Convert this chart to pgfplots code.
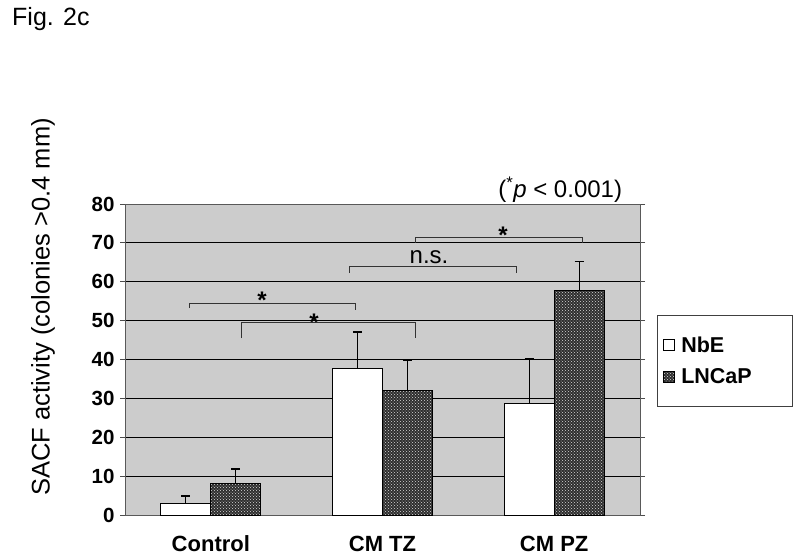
\documentclass[border=0pt]{standalone}
\usepackage{pgfplots}
\pgfplotsset{compat=1.18}
\usepackage{pgfplotstable}
\usepackage{fontspec}
\setmainfont{Liberation Sans}
\usetikzlibrary{patterns}

\pgfplotstableread{
x nbe nbeerr lncap lncaperr
0 3.0 1.9 8.2 3.6
1 37.7 9.4 32.0 7.9
2 28.8 11.5 57.7 7.5
}\sacf

\begin{document}
\begin{tikzpicture}
\path[use as bounding box] (0,0) rectangle (800pt,558pt);
\node[anchor=base west, font=\fontsize{25}{30}\selectfont, inner sep=0pt] at (12pt,532pt) {Fig. 2c};
\begin{axis}[
  at={(125pt,43pt)}, anchor=south west,
  scale only axis, width=515pt, height=311pt,
  ybar=0pt, bar width=50pt,
  xmin=-0.5, xmax=2.5, ymin=0, ymax=80,
  xtick={0,1,2}, xticklabels={Control,CM TZ,CM PZ},
  x tick style={draw=none},
  extra x ticks={0.5,1.5,2.5}, extra x tick labels={},
  extra x tick style={grid=none, tick style={draw=black!70, line width=1pt}, major tick length=5pt, tick align=outside},
  ytick={0,10,...,80},
  tick align=outside, major tick length=5pt,
  y tick style={black!70, line width=1pt},
  ymajorgrids, grid style={black, line width=0.9pt},
  axis background/.style={fill=gray!40},
  axis line style={black!65, line width=1pt},
  /pgf/number format/assume math mode=true,
  yticklabel style={font=\bfseries\fontsize{20.5}{24}\selectfont, xshift=-2pt},
  xticklabel style={font=\bfseries\fontsize{22}{26}\selectfont, text height=16pt, text depth=0pt, yshift=-12pt},
  ylabel={SACF activity (colonies >0.4 mm)},
  ylabel style={font=\fontsize{25.5}{30}\selectfont, at={(axis description cs:-0.159,0.669)}, anchor=center, rotate=0},
  legend image code/.code={\draw[#1, line width=0.8pt] (0pt,-5.5pt) rectangle (11pt,5.5pt);},
  legend style={at={(1.033,0.643)}, anchor=north west, draw=black!75, line width=1pt,
    font=\bfseries\fontsize{21.5}{25}\selectfont, inner xsep=5pt, inner ysep=19pt, row sep=11pt,
    cells={anchor=west},
    /tikz/every odd column/.append style={column sep=5pt}},
  error bars/error bar style={black, line width=1pt},
  error bars/error mark options={rotate=90, mark size=4.5pt, line width=1.3pt, black},
  clip=false,
]
\addplot[fill=white, draw=black, line width=1pt,
  error bars/.cd, y dir=plus, y explicit]
  table[x=x, y=nbe, y error=nbeerr] {\sacf};
\addlegendentry{\makebox[104pt][l]{NbE}}
\addplot[fill=black!82, draw=black, line width=1pt,
  postaction={pattern=crosshatch dots, pattern color=white!85!black},
  error bars/.cd, y dir=plus, y explicit]
  table[x=x, y=lncap, y error=lncaperr] {\sacf};
\addlegendentry{\makebox[104pt][l]{LNCaP}}

\draw[black!80, line width=1pt] (axis cs:-0.127,53.2) -- (axis cs:-0.127,54.5) -- (axis cs:0.845,54.5) -- (axis cs:0.845,52.7);
\draw[black!80, line width=1pt] (axis cs:0.176,45.5) -- (axis cs:0.176,49.4) -- (axis cs:1.195,49.4) -- (axis cs:1.195,45.5);
\draw[black!80, line width=1pt] (axis cs:0.81,62.2) -- (axis cs:0.81,63.8) -- (axis cs:1.783,63.8) -- (axis cs:1.783,62.2);
\draw[black!80, line width=1pt] (axis cs:1.195,70) -- (axis cs:1.195,71.3) -- (axis cs:2.167,71.3) -- (axis cs:2.167,70);
\node[font=\bfseries\fontsize{24}{28}\selectfont] at (axis cs:0.298,55.2) {*};
\node[font=\bfseries\fontsize{24}{28}\selectfont] at (axis cs:0.601,49.5) {*};
\node[font=\bfseries\fontsize{24}{28}\selectfont] at (axis cs:1.702,71.9) {*};
\node[font=\fontsize{24}{28}\selectfont] at (axis cs:1.271,66.4) {n.s.};
\node[font=\fontsize{24}{28}\selectfont] at (axis description cs:0.845,1.045) {(\textsuperscript{*}\textit{p} < 0.001)};
\end{axis}
\end{tikzpicture}
\end{document}
